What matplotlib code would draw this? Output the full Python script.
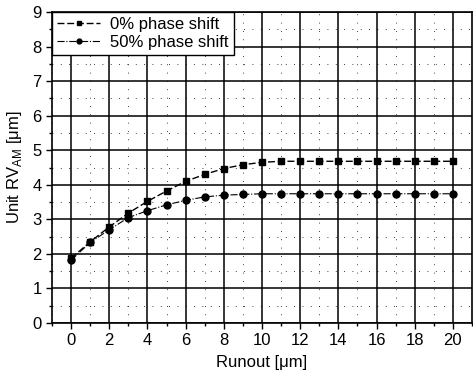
import numpy as np
import matplotlib
matplotlib.use('Agg')
import matplotlib.pyplot as plt
from matplotlib.ticker import MultipleLocator

matplotlib.rcParams.update({'font.size': 12, 'font.family': ['Liberation Sans', 'DejaVu Sans']})

runout = np.arange(0, 21)
shift_0 = [1.87, 2.35, 2.78, 3.18, 3.52, 3.82, 4.10, 4.30, 4.47, 4.58, 4.65,
           4.68, 4.68, 4.68, 4.68, 4.68, 4.68, 4.68, 4.68, 4.68, 4.68]
shift_50 = [1.82, 2.33, 2.70, 3.05, 3.25, 3.42, 3.55, 3.65, 3.70, 3.72, 3.74,
            3.74, 3.74, 3.74, 3.74, 3.74, 3.74, 3.74, 3.74, 3.74, 3.74]

fig = plt.figure(figsize=(4.73, 3.84), dpi=100)
ax = fig.add_axes([52/473, 61/384, 420/473, 311/384])

ax.plot(runout, shift_0, 'k--s', lw=1.0, ms=5, dashes=(5, 2), label='0% phase shift', zorder=3)
ax.plot(runout, shift_50, 'k-.o', lw=0.8, ms=5, label='50% phase shift', zorder=3)

ax.set_xlim(-1, 21)
ax.set_ylim(0, 9)
ax.xaxis.set_major_locator(MultipleLocator(2))
ax.xaxis.set_minor_locator(MultipleLocator(1))
ax.yaxis.set_major_locator(MultipleLocator(1))
ax.yaxis.set_minor_locator(MultipleLocator(0.5))
ax.grid(which='major', color='k', lw=1.1)
ax.grid(which='minor', color='k', lw=0.6, ls=(0, (1, 9)))
ax.tick_params(which='major', direction='out', length=4, width=1, labelsize=12)
ax.tick_params(which='minor', direction='out', length=2, width=1)
for s in ax.spines.values():
    s.set_linewidth(1.2)

ax.set_xlabel('Runout [μm]', labelpad=5)
ax.set_ylabel(r'Unit RV$_{\mathregular{AM}}$ [μm]', labelpad=6)
leg = ax.legend(loc='upper left', frameon=True, fancybox=False, edgecolor='k',
                framealpha=1, borderaxespad=0, handlelength=2.6, labelspacing=0.15,
                markerscale=0.7, borderpad=0.3, handletextpad=0.6)
leg.get_frame().set_linewidth(1.0)

plt.savefig('out.png', dpi=100)
